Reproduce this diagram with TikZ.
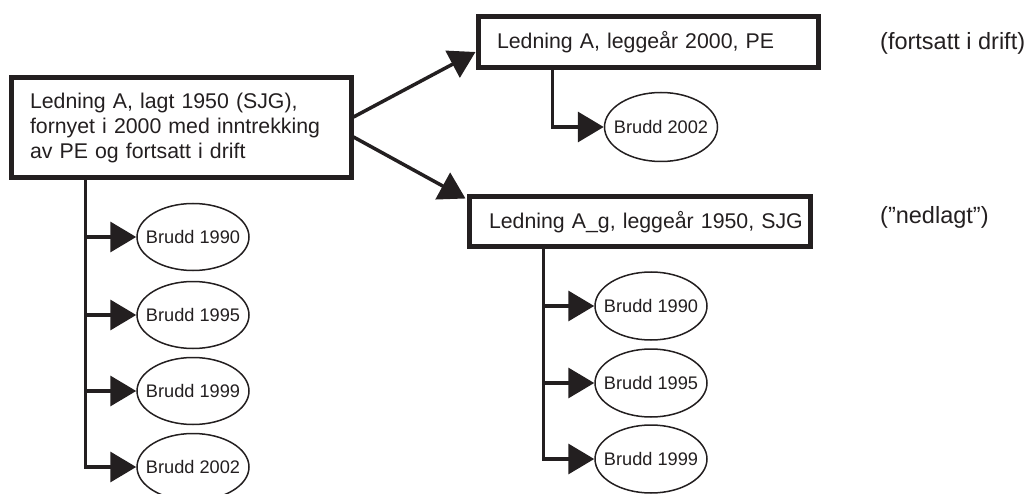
\documentclass[tikz,border=0pt]{standalone}
\usepackage{fontspec}
\setmainfont{Liberation Sans}
\usetikzlibrary{shapes.geometric,arrows.meta}
\definecolor{ink}{RGB}{35,31,32}
\newcommand{\zw}[1]{\makebox[0pt]{#1}}
\tikzset{
  bigbox/.style={draw=ink, line width=5pt, rectangle, align=left, inner ysep=0pt, text=ink, font=\fontsize{21.3}{25}\selectfont},
  brudd/.style={draw=ink, line width=1.5pt, ellipse, inner sep=0pt, minimum width=112pt, minimum height=67pt, font=\fontsize{18.2}{21}\selectfont, text=ink},
  note/.style={inner sep=0pt, anchor=west, font=\fontsize{23.5}{27}\selectfont, text=ink},
  trunk/.style={draw=ink, line width=3.5pt},
  arr/.style={draw=ink, line width=3.5pt, -{Triangle[length=26pt,width=30pt]}},
}
\begin{document}
\begin{tikzpicture}[x=1pt,y=-1pt]
\useasboundingbox (0,0) rectangle (1027,494);
% boxes
\node[bigbox, text width=302pt, inner xsep=19pt, minimum height=100pt] (b1) at (181,128)
  {Ledning A, lagt 1950 (SJG),\\fornyet i 2000 med inntrekking\\av PE og fortsatt i drift};
\node[bigbox, text width=302pt, inner xsep=19pt, minimum height=51pt] (b2) at (648,42.5)
  {\mbox{Ledning A, leggeår 2000, PE}};
\node[bigbox, text width=301pt, inner xsep=20pt, minimum height=50pt] (b3) at (639.5,222)
  {\mbox{Ledning A\_g, leggeår 1950, SJG}};
% notes
\node[note] (n1) at (880,43) {(fortsatt i drift)};
\node[note] (n2) at (880,217) {(”nedlagt”)};
% ellipses left
\node[brudd] (l1) at (193,237) {\zw{Brudd 1990}};
\node[brudd] (l2) at (193,315) {\zw{Brudd 1995}};
\node[brudd] (l3) at (193,391) {\zw{Brudd 1999}};
\node[brudd] (l4) at (193,467) {\zw{Brudd 2002}};
% ellipse top right
\node[brudd, minimum width=113pt, minimum height=69pt] (t1) at (661,127) {\zw{Brudd 2002}};
% ellipses lower right
\node[brudd, minimum height=68pt] (r1) at (651,306) {\zw{Brudd 1990}};
\node[brudd, minimum height=68pt] (r2) at (651,383) {\zw{Brudd 1995}};
\node[brudd, minimum height=68pt] (r3) at (651,459) {\zw{Brudd 1999}};
% connectors between boxes
\draw[arr] ([yshift=11pt]b1.east) -- ([yshift=-9.5pt]b2.west);
\draw[arr] ([yshift=-9pt]b1.east) -- ([xshift=-1pt,yshift=-4pt]b3.north west);
% left trunk
\coordinate (lt) at ([xshift=77pt]b1.south west);
\draw[trunk] (lt) |- ([xshift=-26pt]l4.west);
\draw[arr] (lt |- l1.west) -- (l1.west);
\draw[arr] (lt |- l2.west) -- (l2.west);
\draw[arr] (lt |- l3.west) -- (l3.west);
\draw[arr] (lt |- l4.west) -- (l4.west);
% top right trunk
\coordinate (tt) at ([xshift=77pt]b2.south west);
\draw[arr] (tt) |- (t1.west);
% lower right trunk
\coordinate (rt) at ([xshift=77pt]b3.south west);
\draw[trunk] (rt) |- ([xshift=-26pt]r3.west);
\draw[arr] (rt |- r1.west) -- (r1.west);
\draw[arr] (rt |- r2.west) -- (r2.west);
\draw[arr] (rt |- r3.west) -- (r3.west);
\end{tikzpicture}
\end{document}
